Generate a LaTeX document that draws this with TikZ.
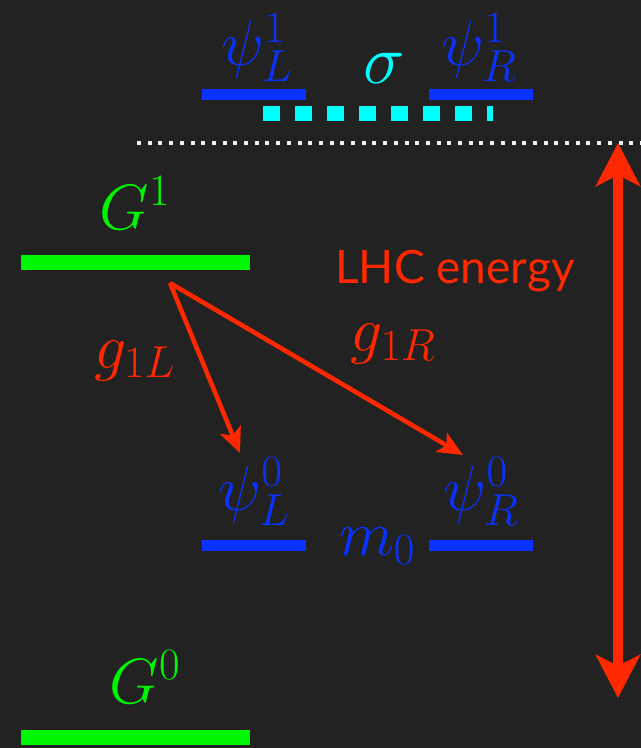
\RequirePackage{fix-cm}
\documentclass[tikz,border=0pt]{standalone}
\usepackage{fontspec}
\newfontfamily\lhcfont{Lato}
\usetikzlibrary{arrows.meta}
\definecolor{bg}{RGB}{34,34,34}
\definecolor{lvlblue}{RGB}{10,50,255}
\definecolor{lvlgreen}{RGB}{0,245,0}
\definecolor{lvlred}{RGB}{255,40,0}
\definecolor{lvlcyan}{RGB}{0,255,255}
\definecolor{dotwhite}{RGB}{240,240,240}
\tikzset{
  mlabel/.style={inner sep=0pt, anchor=base, font=\fontsize{64bp}{76bp}\selectfont},
  bluebar/.style={fill=lvlblue},
  greenbar/.style={fill=lvlgreen},
  coupling/.style={draw=lvlred, line width=4.5bp, -{Stealth[length=25bp,width=22bp,inset=6bp]}},
  energyarrow/.style={draw=lvlred, line width=10bp, {Stealth[length=43bp,width=44bp,inset=11bp]}-{Stealth[length=43bp,width=44bp,inset=11bp]}},
}
\begin{document}
\begin{tikzpicture}[x=1bp,y=-1bp]
\fill[bg] (0,0) rectangle (641,748);
\useasboundingbox (0,0) rectangle (641,748);

% level bars
\fill[greenbar] (21,255) rectangle (250,270);
\fill[greenbar] (21,730) rectangle (250,745);
\fill[bluebar] (202,89) rectangle (306,100);
\fill[bluebar] (429,89) rectangle (533,100);
\fill[bluebar] (202,540) rectangle (306,551);
\fill[bluebar] (429,540) rectangle (533,551);

% sigma dashed link
\coordinate (sigA) at (263,113.5);
\coordinate (sigB) at (493,113.5);
\draw[lvlcyan, line width=15bp, dash pattern=on 16.5bp off 15.5bp] (sigA) -- (sigB);

% LHC threshold
\coordinate (thrA) at (137,143);
\coordinate (thrB) at (641,143);
\draw[dotwhite, line width=4bp, dash pattern=on 4bp off 6.7bp] (thrA) -- (thrB);

% labels
\node[mlabel, text=lvlgreen] (G1) at (135,229) {$G^1$};
\node[mlabel, text=lvlgreen] (G0) at (145,703) {$G^0$};
\node[mlabel, text=lvlblue] (psiL1) at (257,66) {$\psi_L^1$};
\node[mlabel, text=lvlblue] (psiR1) at (479,66) {$\psi_R^1$};
\node[mlabel, text=lvlcyan, font=\fontsize{70bp}{80bp}\selectfont] (sigma) at (384,83) {$\sigma$};
\node[mlabel, text=lvlblue] (psiL0) at (254,510) {$\psi_L^0$};
\node[mlabel, text=lvlblue] (psiR0) at (481,510) {$\psi_R^0$};
\node[mlabel, text=lvlblue] (m0) at (377,555) {$m_0$};
\node[mlabel, text=lvlred] (g1L) at (134.5,368) {$g_{1L}$};
\node[mlabel, text=lvlred] (g1R) at (393,351) {$g_{1R}$};
\node[inner sep=0pt, anchor=base, text=lvlred, font=\lhcfont\fontsize{46bp}{54bp}\selectfont] (lhc) at (455,283) {LHC energy};

% couplings
\coordinate (src) at (170,283);
\coordinate (tipL) at (240,453);
\coordinate (tipR) at (463,455);
\draw[coupling] (src) -- (tipL);
\draw[coupling] (src) -- (tipR);

% energy arrow
\coordinate (eTop) at (618,143);
\coordinate (eBot) at (618,698);
\draw[energyarrow] (eTop) -- (eBot);
\end{tikzpicture}
\end{document}
